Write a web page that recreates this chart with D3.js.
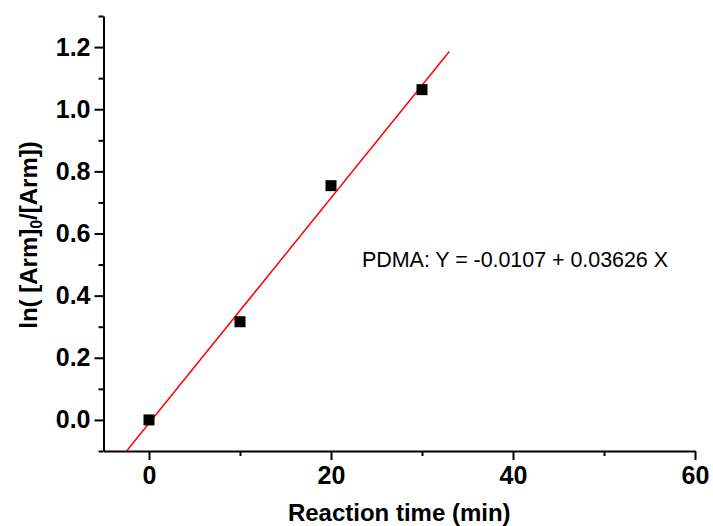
<!DOCTYPE html>
<html>
<head>
<meta charset="utf-8">
<script src="https://cdn.jsdelivr.net/npm/d3@7"></script>
<style>
  body { margin: 0; background: #fff; }
  svg { display: block; font-family: Arial, "Liberation Sans", sans-serif; }
  .axis path, .axis line { stroke: #000; stroke-width: 2; }
  .axis text { font-size: 25px; font-weight: bold; fill: #000; }
</style>
</head>
<body>
<div class="plot"></div>
<script>
// DATA
var times = [0, 10, 20, 30];
var lnRatio = [0.0, 0.316, 0.754, 1.063];
var fitIntercept = -0.0107;
var fitSlope = 0.03626;
var fitRange = [-5, 33];
var xTicks = [0, 20, 40, 60];
var xMinor = [10, 30, 50];
var yTicks = [0, 0.2, 0.4, 0.6, 0.8, 1.0, 1.2];
var yMinor = [-0.1, 0.1, 0.3, 0.5, 0.7, 0.9, 1.1, 1.3];
var fitLabel = "PDMA: Y = -0.0107 + 0.03626 X";

var w = 713;
var h = 526;

var svg = d3.select(".plot").append("svg").attr("width", w).attr("height", h);

// SCALES
var xScale = d3.scaleLinear().domain([-5, 60]).range([103.5, 695]);
var yScale = d3.scaleLinear().domain([-0.1, 1.3]).range([451, 16]);

// clip for the fit line
svg.append("clipPath").attr("id", "plot-area")
  .append("rect")
  .attr("x", xScale(-5)).attr("y", yScale(1.3))
  .attr("width", xScale(60) - xScale(-5))
  .attr("height", yScale(-0.1) - yScale(1.3));

// minor ticks
svg.append("g")
  .attr("class", "axis")
  .attr("transform", "translate(0," + yScale(-0.1) + ")")
  .call(d3.axisBottom(xScale).tickValues(xMinor).tickSize(5).tickSizeOuter(0).tickFormat(""))
  .select(".domain").remove();
svg.append("g")
  .attr("class", "axis")
  .attr("transform", "translate(" + xScale(-5) + ",0)")
  .call(d3.axisLeft(yScale).tickValues(yMinor).tickSize(5).tickSizeOuter(0).tickFormat(""))
  .select(".domain").remove();

// x-axis
svg.append("g")
  .attr("class", "axis x")
  .attr("transform", "translate(0," + yScale(-0.1) + ")")
  .call(d3.axisBottom(xScale).tickValues(xTicks).tickSize(9).tickSizeOuter(0).tickPadding(6).tickFormat(d3.format("d")));

// y-axis
svg.append("g")
  .attr("class", "axis y")
  .attr("transform", "translate(" + xScale(-5) + ",0)")
  .call(d3.axisLeft(yScale).tickValues(yTicks).tickSize(9).tickSizeOuter(0).tickPadding(4).tickFormat(d3.format(".1f")));

// fit line
var line = d3.line()
  .x(function (d) { return xScale(d); })
  .y(function (d) { return yScale(fitIntercept + fitSlope * d); });
svg.append("path")
  .datum(fitRange)
  .attr("clip-path", "url(#plot-area)")
  .attr("d", line)
  .attr("fill", "none")
  .attr("stroke", "#ff0000")
  .attr("stroke-width", 1.5);

// points
svg.selectAll(".pt")
  .data(times)
  .enter()
  .append("rect")
  .attr("class", "pt")
  .attr("x", function (d) { return xScale(d) - 5.5; })
  .attr("y", function (d, i) { return yScale(lnRatio[i]) - 5.5; })
  .attr("width", 11)
  .attr("height", 11)
  .attr("fill", "#000");

// fit label
svg.append("text")
  .attr("x", 362)
  .attr("y", 267)
  .attr("font-size", "21.5px")
  .attr("textLength", 306)
  .attr("fill", "#000")
  .text(fitLabel);

// x-axis label
svg.append("text")
  .attr("x", (xScale(-5) + xScale(60)) / 2)
  .attr("y", 521)
  .attr("font-size", "24px")
  .attr("font-weight", "bold")
  .style("text-anchor", "middle")
  .text("Reaction time (min)");

// y-axis label
var yLabel = svg.append("text")
  .attr("transform", "translate(37," + 235 + ") rotate(-90)")
  .attr("font-size", "24px")
  .attr("font-weight", "bold")
  .style("text-anchor", "middle");
yLabel.append("tspan").text("ln( [Arm]");
yLabel.append("tspan").attr("font-size", "16px").attr("dy", 5).text("0");
yLabel.append("tspan").attr("dy", -5).text("/[Arm])");
</script>
</body>
</html>
